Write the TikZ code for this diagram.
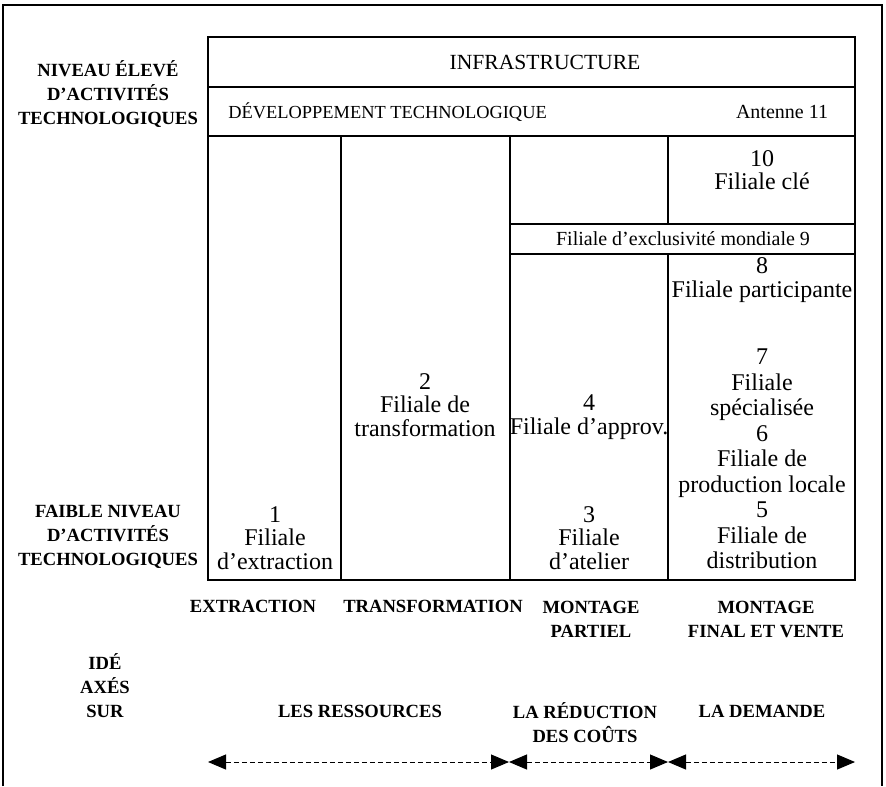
\documentclass[tikz,border=0pt]{standalone}
\usepackage{fontspec}
\setmainfont{Liberation Serif}
\usetikzlibrary{arrows.meta}

\begin{document}
\begin{tikzpicture}[x=0.5pt,y=-0.5pt,
	trait/.style={line width=0.7pt},
	texte/.style={align=center, inner sep=0pt, font=\fontsize{12}{11.75}\selectfont},
	titre/.style={align=center, inner sep=0pt, font=\fontsize{10}{12}\selectfont},
	etiq/.style={align=center, inner sep=0pt, font=\bfseries\fontsize{9.3}{12}\selectfont},
	fleche/.style={line width=0.5pt, dash pattern=on 2.5pt off 1.5pt, {Triangle[length=9pt,width=7.5pt]}-{Triangle[length=9pt,width=7.5pt]}}]
	\useasboundingbox (0,0) rectangle (886,786);
	% Cadre
		\draw[trait] (3,786) -- (3,5) -- (882,5) -- (882,786);
	% Tableau
		% Rangees du haut
			\draw[trait] (208,37) rectangle (855,580);
			\draw[trait] (208,87) -- (855,87);
			\draw[trait] (208,136) -- (855,136);
		% Colonnes
			\draw[trait] (341,136) -- (341,580);
			\draw[trait] (510,136) -- (510,580);
			\draw[trait] (668,136) -- (668,224);
			\draw[trait] (668,254) -- (668,580);
		% Bande mondiale
			\draw[trait] (510,224) -- (855,224);
			\draw[trait] (510,254) -- (855,254);
	% Textes du tableau
		\node[titre, font=\fontsize{10.8}{12}\selectfont] (infra) at (545,62) {INFRASTRUCTURE};
		\node[titre, anchor=west, font=\fontsize{9.2}{12}\selectfont] (devtech) at (228,112) {DÉVELOPPEMENT TECHNOLOGIQUE};
		\node[titre] (antenne) at (782,112) {Antenne 11};
		\node[texte] (extr) at (275,538) {1\\Filiale\\d’extraction};
		\node[texte] (transf) at (425,405) {2\\Filiale de\\transformation};
		\node[texte] (approv) at (589,417) {4\\Filiale d’approv.};
		\node[texte] (atelier) at (589,538) {3\\Filiale\\d’atelier};
		\node[texte] (cle) at (762,170) {10\\Filiale clé};
		\node[titre] (mondiale) at (683,239) {Filiale d’exclusivité mondiale 9};
		\node[texte] (particip) at (762,280) {8\\Filiale participante};
		\node[texte, font=\fontsize{12}{12.75}\selectfont] (filiales) at (762,459) {7\\Filiale\\spécialisée\\6\\Filiale de\\production locale\\5\\Filiale de\\distribution};
	% Etiquettes
		\node[etiq] (eleve) at (108,94) {NIVEAU ÉLEVÉ\\D’ACTIVITÉS\\TECHNOLOGIQUES};
		\node[etiq] (faible) at (108,537) {FAIBLE NIVEAU\\D’ACTIVITÉS\\TECHNOLOGIQUES};
		\node[etiq] (extraction) at (253,606) {EXTRACTION};
		\node[etiq] (transformation) at (433,606) {TRANSFORMATION};
		\node[etiq] (partiel) at (591,619) {MONTAGE\\PARTIEL};
		\node[etiq] (vente) at (766,619) {MONTAGE\\FINAL ET VENTE};
		\node[etiq] (axes) at (105,686) {IDÉ\\AXÉS\\SUR};
		\node[etiq] (ressources) at (360,711) {LES RESSOURCES};
		\node[etiq] (couts) at (585,723) {LA RÉDUCTION\\DES COÛTS};
		\node[etiq] (demande) at (762,711) {LA DEMANDE};
	% Fleches
		\coordinate (f0) at (208,762);
		\coordinate (f1) at (509,762);
		\coordinate (f2) at (668,762);
		\coordinate (f3) at (855,762);
		\draw[fleche] (f0) -- (f1);
		\draw[fleche] (f1) -- (f2);
		\draw[fleche] (f2) -- (f3);
\end{tikzpicture}
\end{document}
